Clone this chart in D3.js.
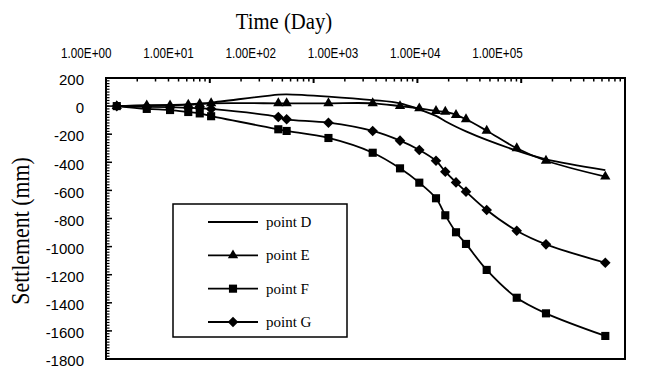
<!DOCTYPE html>
<html>
<head>
<meta charset="utf-8">
<script src="https://cdn.jsdelivr.net/npm/d3@7"></script>
<style>
  body { margin: 0; background: #fff; }
  svg { display: block; }
</style>
</head>
<body>
<figure id="chart" style="margin:0"></figure>
<script>
// time in days (log axis) shared by every series
const days = [1.27, 2.47, 4.14, 6.2, 8.0, 10.3, 45.7, 55, 139, 371, 680, 1043, 1511, 1857, 2355, 2939, 4652, 9057, 17330, 64600];

// settlement (mm)
const pointD = [0, 5, 8, 12, 18, 25, 82, 84, 68, 43, 20, -23, -70, -108, -147, -180, -241, -317, -379, -455];
const pointE = [0, 5, 5, 10, 15, 20, 20, 20, 20, 20, 0, -16, -35, -40, -63, -94, -175, -300, -389, -502];
const pointF = [0, -20, -28, -42, -52, -72, -165, -177, -227, -332, -443, -545, -656, -777, -898, -981, -1166, -1364, -1475, -1636];
const pointG = [0, -5, -8, -12, -15, -20, -77, -94, -118, -177, -246, -312, -389, -467, -543, -609, -740, -887, -984, -1115];

const seriesNames = ["point D", "point E", "point F", "point G"];
const xTickValues = [1, 10, 100, 1000, 10000, 100000];
const xTickLabels = ["1.00E+00", "1.00E+01", "1.00E+02", "1.00E+03", "1.00E+04", "1.00E+05"];
const yTickValues = [200, 0, -200, -400, -600, -800, -1000, -1200, -1400, -1600, -1800];

const width = 660, height = 369;
const plot = { left: 106, right: 625, top: 78, bottom: 359 };

const svg = d3.select("#chart").append("svg")
  .attr("width", width)
  .attr("height", height);

const x = d3.scaleLog().domain([1, 1e5]).range([plot.left, plot.right]);
const y = d3.scaleLinear().domain([-1800, 200]).range([plot.bottom, plot.top]);
// the top labels sit on their own (narrower) spacing in the original
const xLabel = d3.scaleLog().domain([1, 1e5]).range([86.3, 497.5]);

// frame
svg.append("rect")
  .attr("x", plot.left).attr("y", plot.top)
  .attr("width", plot.right - plot.left)
  .attr("height", plot.bottom - plot.top)
  .attr("fill", "none").attr("stroke", "#000").attr("stroke-width", 2);

// top axis ticks, pointing inward
const topAxis = svg.append("g").attr("transform", "translate(0," + plot.top + ")");
const minorX = [];
for (let p = 0; p < 5; p++) {
  for (let k = 2; k <= 9; k++) minorX.push(k * Math.pow(10, p));
}
topAxis.selectAll("line.minor").data(minorX).enter().append("line")
  .attr("x1", d => x(d)).attr("x2", d => x(d))
  .attr("y1", 0).attr("y2", 3.5)
  .attr("stroke", "#000").attr("stroke-width", 1.5);
topAxis.selectAll("line.major").data(xTickValues).enter().append("line")
  .attr("x1", d => x(d)).attr("x2", d => x(d))
  .attr("y1", 0).attr("y2", 5)
  .attr("stroke", "#000").attr("stroke-width", 2);

svg.selectAll("g.xlab").data(xTickValues).enter().append("g")
  .attr("transform", d => "translate(" + xLabel(d) + ",58)")
  .append("text")
  .attr("transform", "scale(0.78,1)")
  .attr("text-anchor", "middle")
  .style("font-family", "'Liberation Sans', Arial, sans-serif")
  .style("font-size", "15px")
  .text((d, i) => xTickLabels[i]);

// left axis ticks, pointing inward
const leftAxis = svg.append("g").attr("transform", "translate(" + plot.left + ",0)");
leftAxis.selectAll("line.minor").data(d3.range(-1800, 201, 20)).enter().append("line")
  .attr("x1", 0).attr("x2", 3.5)
  .attr("y1", d => y(d)).attr("y2", d => y(d))
  .attr("stroke", "#000").attr("stroke-width", 1.2);
leftAxis.selectAll("line.major").data(yTickValues).enter().append("line")
  .attr("x1", 0).attr("x2", 6)
  .attr("y1", d => y(d)).attr("y2", d => y(d))
  .attr("stroke", "#000").attr("stroke-width", 1.5);

svg.selectAll("text.ylab").data(yTickValues).enter().append("text")
  .attr("x", 84)
  .attr("y", d => y(d) + 2)
  .attr("dy", "0.35em")
  .attr("text-anchor", "end")
  .style("font-family", "'Liberation Sans', Arial, sans-serif")
  .style("font-size", "15px")
  .text(d => d);

// titles
svg.append("g").attr("transform", "translate(284,29)")
  .append("text")
  .attr("transform", "scale(0.9,1)")
  .attr("text-anchor", "middle")
  .style("font-family", "'Liberation Serif', 'Times New Roman', serif")
  .style("font-size", "23px")
  .text("Time (Day)");

svg.append("g").attr("transform", "translate(29,231) rotate(-90)")
  .append("text")
  .attr("transform", "scale(0.84,1)")
  .attr("text-anchor", "middle")
  .style("font-family", "'Liberation Serif', 'Times New Roman', serif")
  .style("font-size", "26px")
  .text("Settlement (mm)");

// symbols
const diamond = {
  draw(ctx, s) {
    const r = Math.sqrt(s / 2);
    ctx.moveTo(0, -r); ctx.lineTo(r, 0); ctx.lineTo(0, r); ctx.lineTo(-r, 0); ctx.closePath();
  }
};
const markerTypes = [null, d3.symbolTriangle, d3.symbolSquare, diamond];
const markerSizes = [0, 46, 66, 56];

const allSeries = [pointD, pointE, pointF, pointG].map((vals, i) => ({
  name: seriesNames[i],
  values: vals.map((v, j) => ({ t: days[j], v: v })),
  type: markerTypes[i],
  size: markerSizes[i]
}));

const line = d3.line()
  .x(d => x(d.t))
  .y(d => y(d.v))
  .curve(d3.curveCatmullRom.alpha(0.5));

const groups = svg.selectAll("g.series").data(allSeries).enter().append("g");

groups.append("path")
  .attr("d", d => line(d.values))
  .attr("fill", "none")
  .attr("stroke", "#000")
  .attr("stroke-width", 1.8);

groups.each(function (s) {
  if (!s.type) return;
  d3.select(this).selectAll("path.m").data(s.values).enter().append("path")
    .attr("transform", d => "translate(" + x(d.t) + "," + y(d.v) + ")")
    .attr("d", d3.symbol().type(s.type).size(s.size))
    .attr("fill", "#000");
});

// legend
const legend = svg.append("g");
legend.append("rect")
  .attr("x", 173).attr("y", 204)
  .attr("width", 174).attr("height", 133)
  .attr("fill", "#fff").attr("stroke", "#000").attr("stroke-width", 1.5);

const ly = d3.scalePoint().domain(seriesNames).range([222, 322]);
const items = legend.selectAll("g.item").data(allSeries).enter().append("g")
  .attr("transform", d => "translate(0," + ly(d.name) + ")");
items.append("line")
  .attr("x1", 208).attr("x2", 258)
  .attr("stroke", "#000").attr("stroke-width", 1.8);
items.filter(d => d.type).append("path")
  .attr("transform", "translate(233,0)")
  .attr("d", d => d3.symbol().type(d.type).size(d.size)());
items.append("text")
  .attr("x", 266).attr("y", 5)
  .style("font-family", "'Liberation Serif', 'Times New Roman', serif")
  .style("font-size", "15px")
  .text(d => d.name);
</script>
</body>
</html>
